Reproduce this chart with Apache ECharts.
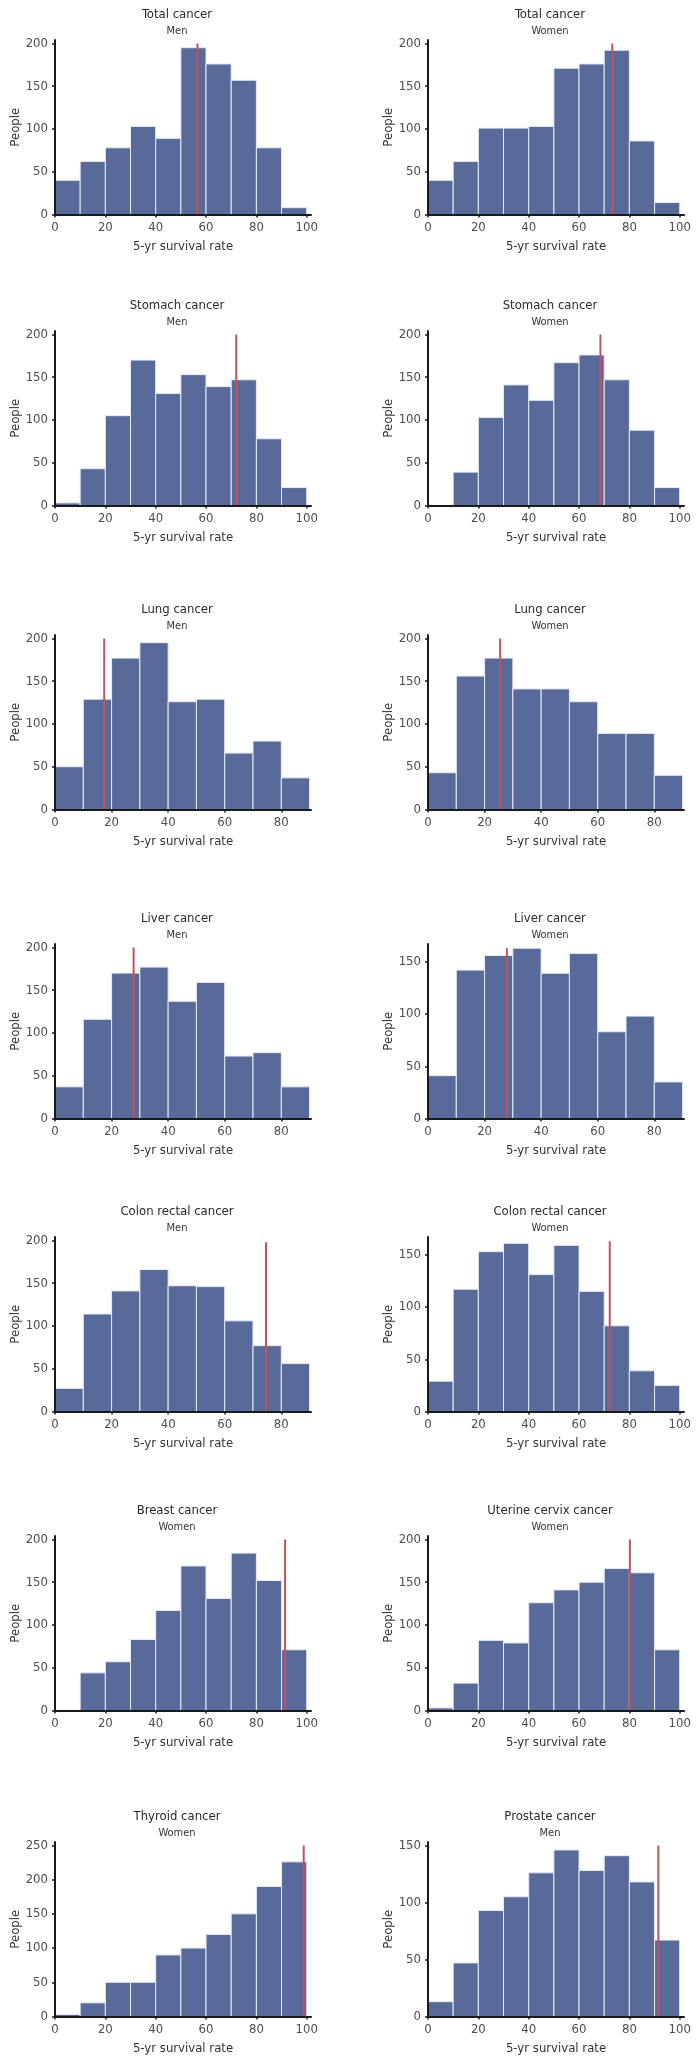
<!DOCTYPE html>
<html>
<head>
<meta charset="utf-8">
<script src="https://cdn.jsdelivr.net/npm/echarts@6/dist/echarts.min.js"></script>
<style>
html,body{margin:0;padding:0;background:#fff;}
#c{width:697px;height:2070px;}
</style>
</head>
<body>
<div id="c"></div>
<script>
// ---- data ----
const cancerTitles = ['Total cancer','Total cancer','Stomach cancer','Stomach cancer','Lung cancer','Lung cancer',
  'Liver cancer','Liver cancer','Colon rectal cancer','Colon rectal cancer','Breast cancer','Uterine cervix cancer',
  'Thyroid cancer','Prostate cancer'];
const sexLabels = ['Men','Women','Men','Women','Men','Women','Men','Women','Men','Women','Women','Women','Women','Men'];
const binWidth = 10;
const totalMen      = [40, 62, 78, 103, 89, 195, 176, 157, 78, 8];
const totalWomen    = [40, 62, 101, 101, 103, 171, 176, 192, 86, 14];
const stomachMen    = [3, 43, 105, 170, 131, 153, 139, 147, 78, 21];
const stomachWomen  = [0, 39, 103, 141, 123, 167, 176, 147, 88, 21];
const lungMen       = [50, 129, 177, 195, 126, 129, 66, 80, 37];
const lungWomen     = [43, 156, 177, 141, 141, 126, 89, 89, 40];
const liverMen      = [37, 116, 170, 177, 137, 159, 73, 77, 37];
const liverWomen    = [41, 142, 156, 163, 139, 158, 83, 98, 35];
const colonMen      = [27, 114, 141, 166, 147, 146, 106, 77, 56];
const colonWomen    = [29, 117, 153, 161, 131, 159, 115, 82, 39, 25];
const breastWomen   = [0, 44, 57, 83, 117, 169, 131, 184, 152, 71];
const cervixWomen   = [3, 32, 82, 79, 126, 141, 150, 166, 161, 71];
const thyroidWomen  = [3, 20, 50, 50, 90, 100, 120, 150, 190, 226];
const prostateMen   = [13, 47, 93, 105, 126, 146, 128, 141, 118, 67];
const panelCounts = [totalMen,totalWomen,stomachMen,stomachWomen,lungMen,lungWomen,liverMen,liverWomen,
  colonMen,colonWomen,breastWomen,cervixWomen,thyroidWomen,prostateMen];
// overall survival rate (red reference line) and its height
const refRate = [56.6, 73.2, 72.0, 68.5, 17.4, 25.5, 27.8, 27.9, 74.6, 72.2, 91.4, 80.2, 98.8, 91.5];
const refTop  = [200, 200, 200, 200, 200, 200, 200, 163, 198, 163, 200, 200, 250, 150];
// y axis ranges and tick labels
const yMax = [204, 204, 204, 204, 204, 204, 204, 167, 204, 167, 204, 204, 255, 153];
const yTicks200 = [0, 50, 100, 150, 200];
const yTicks150 = [0, 50, 100, 150];
const yTicks250 = [0, 50, 100, 150, 200, 250];
const yTickSets = [yTicks200,yTicks200,yTicks200,yTicks200,yTicks200,yTicks200,yTicks200,yTicks150,
  yTicks200,yTicks150,yTicks200,yTicks200,yTicks250,yTicks150];
const xTicks100 = [0, 20, 40, 60, 80, 100];
const xTicks90 = [0, 20, 40, 60, 80];
const xLabel = '5-yr survival rate';
const yLabel = 'People';

// ---- layout ----
const colLeft = [55, 428];
const rowTop = [40, 331, 635, 944, 1237, 1536, 1842];
const gridH = 174.5;
const gridW = 256;
const BAR = '#586a99';
const RED = '#c2525c';
const TXT = '#333';
const LBL = '#4d4d4d';
const FONT = '"Liberation Sans Narrow","DejaVu Sans Condensed","Roboto",sans-serif';

const grids = [], xAxes = [], yAxes = [], series = [], titles = [];
panelCounts.forEach((counts, i) => {
  const col = i % 2, row = Math.floor(i / 2);
  const left = colLeft[col], top = rowTop[row];
  const xRange = counts.length * binWidth;
  const xMax = xRange === 100 ? 101.7 : 90.5;
  grids.push({left: left, top: top, width: gridW, height: gridH});
  titles.push({
    text: cancerTitles[i], subtext: sexLabels[i],
    left: left + 122, top: top - 32, textAlign: 'center', padding: 0, itemGap: 3,
    textStyle: {fontFamily: FONT, fontSize: 13, fontWeight: 'normal', color: '#2a2a2a', lineHeight: 14},
    subtextStyle: {fontFamily: FONT, fontSize: 11, color: '#333', lineHeight: 12}
  });
  xAxes.push({
    type: 'value', gridIndex: i, min: 0, max: xMax, z: 5,
    name: xLabel, nameLocation: 'middle', nameGap: 26,
    nameTextStyle: {fontFamily: FONT, fontSize: 13, color: TXT},
    splitLine: {show: false},
    axisLine: {show: true, onZero: false, lineStyle: {color: '#1a1a1a', width: 2}},
    axisTick: {show: true, length: 3, lineStyle: {color: '#1a1a1a', width: 1.5},
      customValues: xRange === 100 ? xTicks100 : xTicks90},
    axisLabel: {fontFamily: FONT, fontSize: 13, color: LBL, margin: 7,
      customValues: xRange === 100 ? xTicks100 : xTicks90}
  });
  yAxes.push({
    type: 'value', gridIndex: i, min: 0, max: yMax[i], z: 5,
    name: yLabel, nameLocation: 'middle', nameGap: 32,
    nameTextStyle: {fontFamily: FONT, fontSize: 13, color: TXT},
    splitLine: {show: false},
    axisLine: {show: true, lineStyle: {color: '#1a1a1a', width: 2}},
    axisTick: {show: true, length: 3, lineStyle: {color: '#1a1a1a', width: 1.5}, customValues: yTickSets[i]},
    axisLabel: {fontFamily: FONT, fontSize: 13, color: LBL, margin: 7, customValues: yTickSets[i]}
  });
  const binData = counts.map((c, k) => [k * binWidth, (k + 1) * binWidth, c]);
  series.push({
    type: 'custom', xAxisIndex: i, yAxisIndex: i, z: 2,
    data: binData,
    renderItem: function (params, api) {
      const h = api.value(2);
      if (!h) return null;
      const p0 = api.coord([api.value(0), 0]);
      const p1 = api.coord([api.value(1), h]);
      return {
        type: 'rect',
        shape: {x: p0[0], y: p1[1], width: p1[0] - p0[0], height: p0[1] - p1[1]},
        style: {fill: BAR, stroke: '#e6ebf4', lineWidth: 1}
      };
    },
    silent: true
  });
  series.push({
    type: 'line', xAxisIndex: i, yAxisIndex: i, z: 4,
    data: [[refRate[i], 0], [refRate[i], refTop[i]]],
    symbol: 'none', lineStyle: {color: RED, width: 2}, silent: true, animation: false
  });
});

const chart = echarts.init(document.getElementById('c'), null, {renderer: 'canvas'});
chart.setOption({
  animation: false,
  backgroundColor: '#fff',
  title: titles,
  grid: grids,
  xAxis: xAxes,
  yAxis: yAxes,
  series: series
});
</script>
</body>
</html>
